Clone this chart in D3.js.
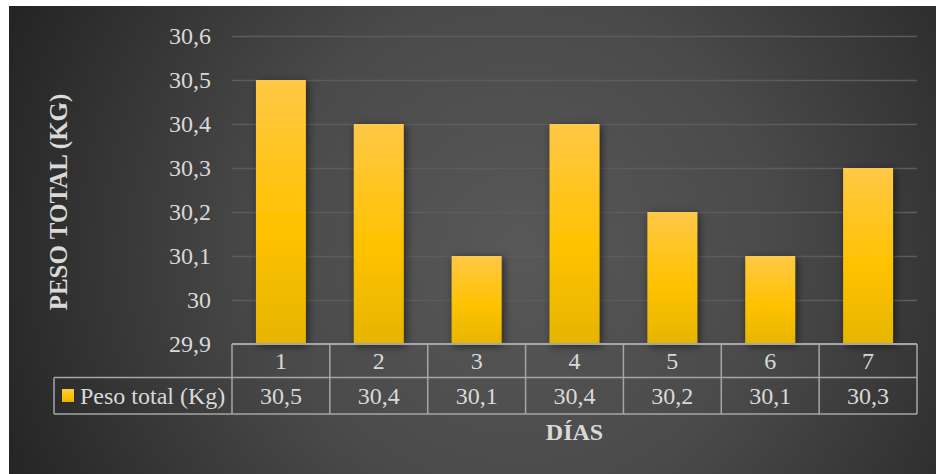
<!DOCTYPE html>
<html>
<head>
<meta charset="utf-8">
<script src="https://cdn.jsdelivr.net/npm/d3@7"></script>
<style>
  html, body { margin: 0; padding: 0; background: #fff; }
  text { font-family: "Liberation Serif", "Times New Roman", serif; }
</style>
</head>
<body>
<div id="chart"></div>
<script>
// data
const dias = ['1', '2', '3', '4', '5', '6', '7'];
const peso = [30.5, 30.4, 30.1, 30.4, 30.2, 30.1, 30.3];
const yTicks = [29.9, 30, 30.1, 30.2, 30.3, 30.4, 30.5, 30.6];
const serieName = 'Peso total (Kg)';
const yTitle = 'PESO TOTAL (KG)';
const xTitle = 'DÍAS';

const W = 936, H = 474;
const plot = { left: 232, right: 917, top: 36, bottom: 344 };
const row1 = 377.5, row2 = 414, legendLeft = 54;
const txt = '#d9d9d9', lineCol = '#a6a6a6';
const serif = '"Liberation Serif", "Times New Roman", serif';

const es = d3.formatLocale({ decimal: ',', thousands: '.', grouping: [3], currency: ['', ''] });
const fmt = es.format('~f');

const svg = d3.select('#chart').append('svg')
  .attr('width', W).attr('height', H);

const defs = svg.append('defs');
const bg = defs.append('radialGradient').attr('id', 'bg')
  .attr('gradientUnits', 'userSpaceOnUse')
  .attr('cx', 520).attr('cy', 250).attr('r', 560);
bg.append('stop').attr('offset', '0%').attr('stop-color', '#585858');
bg.append('stop').attr('offset', '45%').attr('stop-color', '#4a4a4a');
bg.append('stop').attr('offset', '100%').attr('stop-color', '#242424');

const barGrad = defs.append('linearGradient').attr('id', 'barGrad')
  .attr('x1', 0).attr('y1', 0).attr('x2', 0).attr('y2', 1);
barGrad.append('stop').attr('offset', '0%').attr('stop-color', '#ffc846');
barGrad.append('stop').attr('offset', '55%').attr('stop-color', '#ffc200');
barGrad.append('stop').attr('offset', '100%').attr('stop-color', '#e6b500');

const shadow = defs.append('filter').attr('id', 'shadow')
  .attr('x', '-30%').attr('y', '-10%').attr('width', '160%').attr('height', '120%');
shadow.append('feDropShadow').attr('dx', 2).attr('dy', 2).attr('stdDeviation', 4)
  .attr('flood-color', '#000').attr('flood-opacity', 0.55);

svg.append('rect')
  .attr('x', 9).attr('y', 6).attr('width', W - 9).attr('height', H - 6)
  .attr('fill', 'url(#bg)');

const y = d3.scaleLinear()
  .domain([yTicks[0], yTicks[yTicks.length - 1]])
  .range([plot.bottom, plot.top]);

const x = d3.scaleBand()
  .domain(dias)
  .range([plot.left, plot.right])
  .paddingInner(0.49)
  .paddingOuter(0.245);

// gridlines + y tick labels
const yAxis = svg.append('g')
  .attr('transform', `translate(${plot.left},0)`)
  .call(d3.axisLeft(y).tickValues(yTicks).tickFormat(fmt)
    .tickSize(-(plot.right - plot.left)).tickPadding(21))
  .attr('font-family', serif)
  .attr('font-size', 24);
yAxis.select('.domain').remove();
yAxis.selectAll('line').attr('stroke', '#5c5c5c').attr('stroke-width', 1.5);
yAxis.selectAll('text').attr('fill', txt);

// bars
svg.append('g').selectAll('rect')
  .data(dias)
  .join('rect')
  .attr('x', d => x(d))
  .attr('y', (d, i) => y(peso[i]))
  .attr('width', x.bandwidth())
  .attr('height', (d, i) => y(yTicks[0]) - y(peso[i]))
  .attr('fill', 'url(#barGrad)')
  .attr('filter', 'url(#shadow)');

// data table
const step = x.step();
const cellLeft = d => x(d) - step * x.paddingOuter();
const table = svg.append('g')
  .attr('stroke', lineCol).attr('stroke-width', 1.5).attr('fill', 'none');
table.append('line').attr('x1', plot.left).attr('x2', plot.right)
  .attr('y1', plot.bottom).attr('y2', plot.bottom).attr('stroke-width', 2);
table.append('line').attr('x1', legendLeft).attr('x2', plot.right)
  .attr('y1', row1).attr('y2', row1);
table.append('line').attr('x1', legendLeft).attr('x2', plot.right)
  .attr('y1', row2).attr('y2', row2);
table.append('line').attr('x1', legendLeft).attr('x2', legendLeft)
  .attr('y1', row1).attr('y2', row2);
table.selectAll('.vline')
  .data(dias)
  .join('line')
  .attr('class', 'vline')
  .attr('x1', d => cellLeft(d)).attr('x2', d => cellLeft(d))
  .attr('y1', plot.bottom).attr('y2', row2);
table.append('line').attr('x1', plot.right).attr('x2', plot.right)
  .attr('y1', plot.bottom).attr('y2', row2);

svg.append('g').selectAll('text')
  .data(dias)
  .join('text')
  .attr('x', d => x(d) + x.bandwidth() / 2)
  .attr('y', (plot.bottom + row1) / 2)
  .attr('dy', '0.35em')
  .attr('text-anchor', 'middle')
  .attr('fill', txt)
  .style('font-size', '24px')
  .text(d => d);

svg.append('g').selectAll('text')
  .data(dias)
  .join('text')
  .attr('x', d => x(d) + x.bandwidth() / 2)
  .attr('y', (row1 + row2) / 2)
  .attr('dy', '0.35em')
  .attr('text-anchor', 'middle')
  .attr('fill', txt)
  .style('font-size', '24px')
  .text((d, i) => fmt(peso[i]));

// legend key in the table
svg.append('rect')
  .attr('x', 62).attr('y', 389).attr('width', 12).attr('height', 13)
  .attr('fill', 'url(#barGrad)');
svg.append('text')
  .attr('x', 80).attr('y', (row1 + row2) / 2)
  .attr('dy', '0.35em')
  .attr('fill', txt)
  .style('font-size', '24px')
  .text(serieName);

// axis titles
svg.append('text')
  .attr('transform', `translate(58,${(plot.top + plot.bottom) / 2 + 12}) rotate(-90)`)
  .attr('text-anchor', 'middle')
  .attr('dy', '0.35em')
  .attr('fill', txt)
  .style('font-size', '25px')
  .style('font-weight', 'bold')
  .text(yTitle);

svg.append('text')
  .attr('x', (plot.left + plot.right) / 2)
  .attr('y', 440)
  .attr('text-anchor', 'middle')
  .attr('fill', txt)
  .style('font-size', '24px')
  .style('font-weight', 'bold')
  .text(xTitle);
</script>
</body>
</html>
